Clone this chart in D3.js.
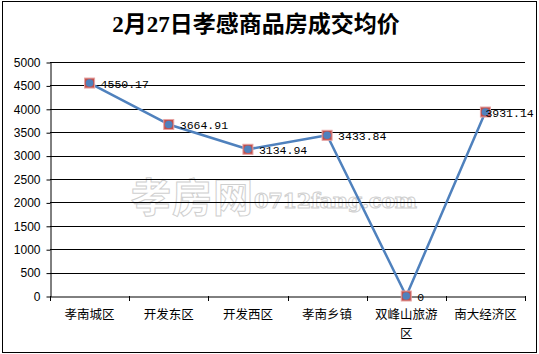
<!DOCTYPE html>
<html><head><meta charset="utf-8">
<script src="https://cdn.jsdelivr.net/npm/d3@7"></script>
<style>body{margin:0;background:#fff}svg{display:block}</style>
</head><body>
<svg id="c" width="539" height="354"></svg>
<script>
const title = "2月27日孝感商品房成交均价";
const categories = ["孝南城区","开发东区","开发西区","孝南乡镇","双峰山旅游区","南大经济区"];
const values = [4550.17, 3664.91, 3134.94, 3433.84, 0, 3931.14];
const valueLabels = ["4550.17","3664.91","3134.94","3433.84","0","3931.14"];
const yTicks = [0,500,1000,1500,2000,2500,3000,3500,4000,4500,5000];

const svg = d3.select("#c");
const L=50, R=525, T=62, B=296;
svg.append("rect").attr("x",2.5).attr("y",1.5).attr("width",534).attr("height",351)
  .attr("fill","#fff").attr("stroke","#000");

svg.append("text").attr("x",256).attr("y",32).attr("text-anchor","middle")
  .attr("font-family","'Liberation Serif','Noto Sans CJK SC'").attr("font-weight","bold")
  .attr("font-size",23).attr("fill","#000").text(title);

const x = d3.scaleBand().domain(categories).range([L,R]);
const y = d3.scaleLinear().domain([0,5000]).range([B,T]);

// watermark
const wm = svg.append("g").attr("fill","#fff").attr("stroke","#cfcfcf").attr("stroke-width",1);
wm.append("text").attr("x",131).attr("y",212).attr("font-family","'Noto Sans CJK SC'")
  .attr("font-size",40).attr("font-weight","bold").attr("textLength",122).text("孝房网");
wm.append("text").attr("x",254).attr("y",208).attr("font-family","'DejaVu Serif'")
  .attr("font-size",21).attr("font-weight","bold").attr("textLength",163).text("0712fang.com");

// gridlines
svg.append("g").selectAll("line").data(yTicks.filter(d=>d>0)).join("line")
  .attr("x1",L).attr("x2",R).attr("y1",d=>Math.round(y(d))+0.5).attr("y2",d=>Math.round(y(d))+0.5)
  .attr("stroke","#000");

// y axis
const ya = svg.append("g").attr("transform",`translate(${L+0.5},0.5)`)
  .call(d3.axisLeft(y).tickValues(yTicks).tickFormat(d3.format("d")).tickSize(4).tickPadding(6).tickSizeOuter(0));
ya.select(".domain").attr("stroke","#000");
ya.selectAll("text").attr("font-family","'Liberation Sans'").attr("font-size",12).attr("fill","#000");

// x axis
const xa = svg.append("g").attr("transform",`translate(0,${B+0.5})`)
  .call(d3.axisBottom(x).tickSize(0).tickFormat(""));
xa.select(".domain").attr("stroke","#000");
const edges = categories.map(c=>x(c)).concat([R]);
svg.append("g").selectAll("line").data(edges).join("line")
  .attr("x1",d=>Math.round(d)+0.5).attr("x2",d=>Math.round(d)+0.5).attr("y1",B).attr("y2",B+5).attr("stroke","#000");

const cx = c=>x(c)+x.bandwidth()/2;
const lab = svg.append("g").attr("font-family","'Noto Sans CJK SC'").attr("font-size",12.5).attr("fill","#000").attr("text-anchor","middle");
categories.forEach(c=>{
  const lines = c.length>5 ? [c.slice(0,5), c.slice(5)] : [c];
  lines.forEach((s,i)=>lab.append("text").attr("x",cx(c)).attr("y",319+i*19).text(s));
});

// line
svg.append("path").datum(values.map((v,i)=>[cx(categories[i]),y(v)]))
  .attr("d",d3.line()).attr("fill","none").attr("stroke","#4F81BD").attr("stroke-width",2.5).attr("stroke-linejoin","round");

const pts = svg.append("g").selectAll("g").data(values).join("g")
  .attr("transform",(d,i)=>`translate(${cx(categories[i])},${y(d)})`);
pts.append("rect").attr("x",-5).attr("y",-5).attr("width",10).attr("height",10)
  .attr("fill","#C0504D").attr("stroke","#E6A3A2").attr("stroke-width",1);
pts.append("circle").attr("r",3.8).attr("fill","#4F81BD");

svg.append("g").selectAll("text").data(values).join("text")
  .attr("x",(d,i)=>cx(categories[i])+ (i===5?0:11)).attr("y",d=>y(d)+4.5)
  .attr("font-family","'Liberation Mono'").attr("font-size",11.5).attr("fill","#000")
  .text((d,i)=>valueLabels[i]);
</script>
</body></html>
